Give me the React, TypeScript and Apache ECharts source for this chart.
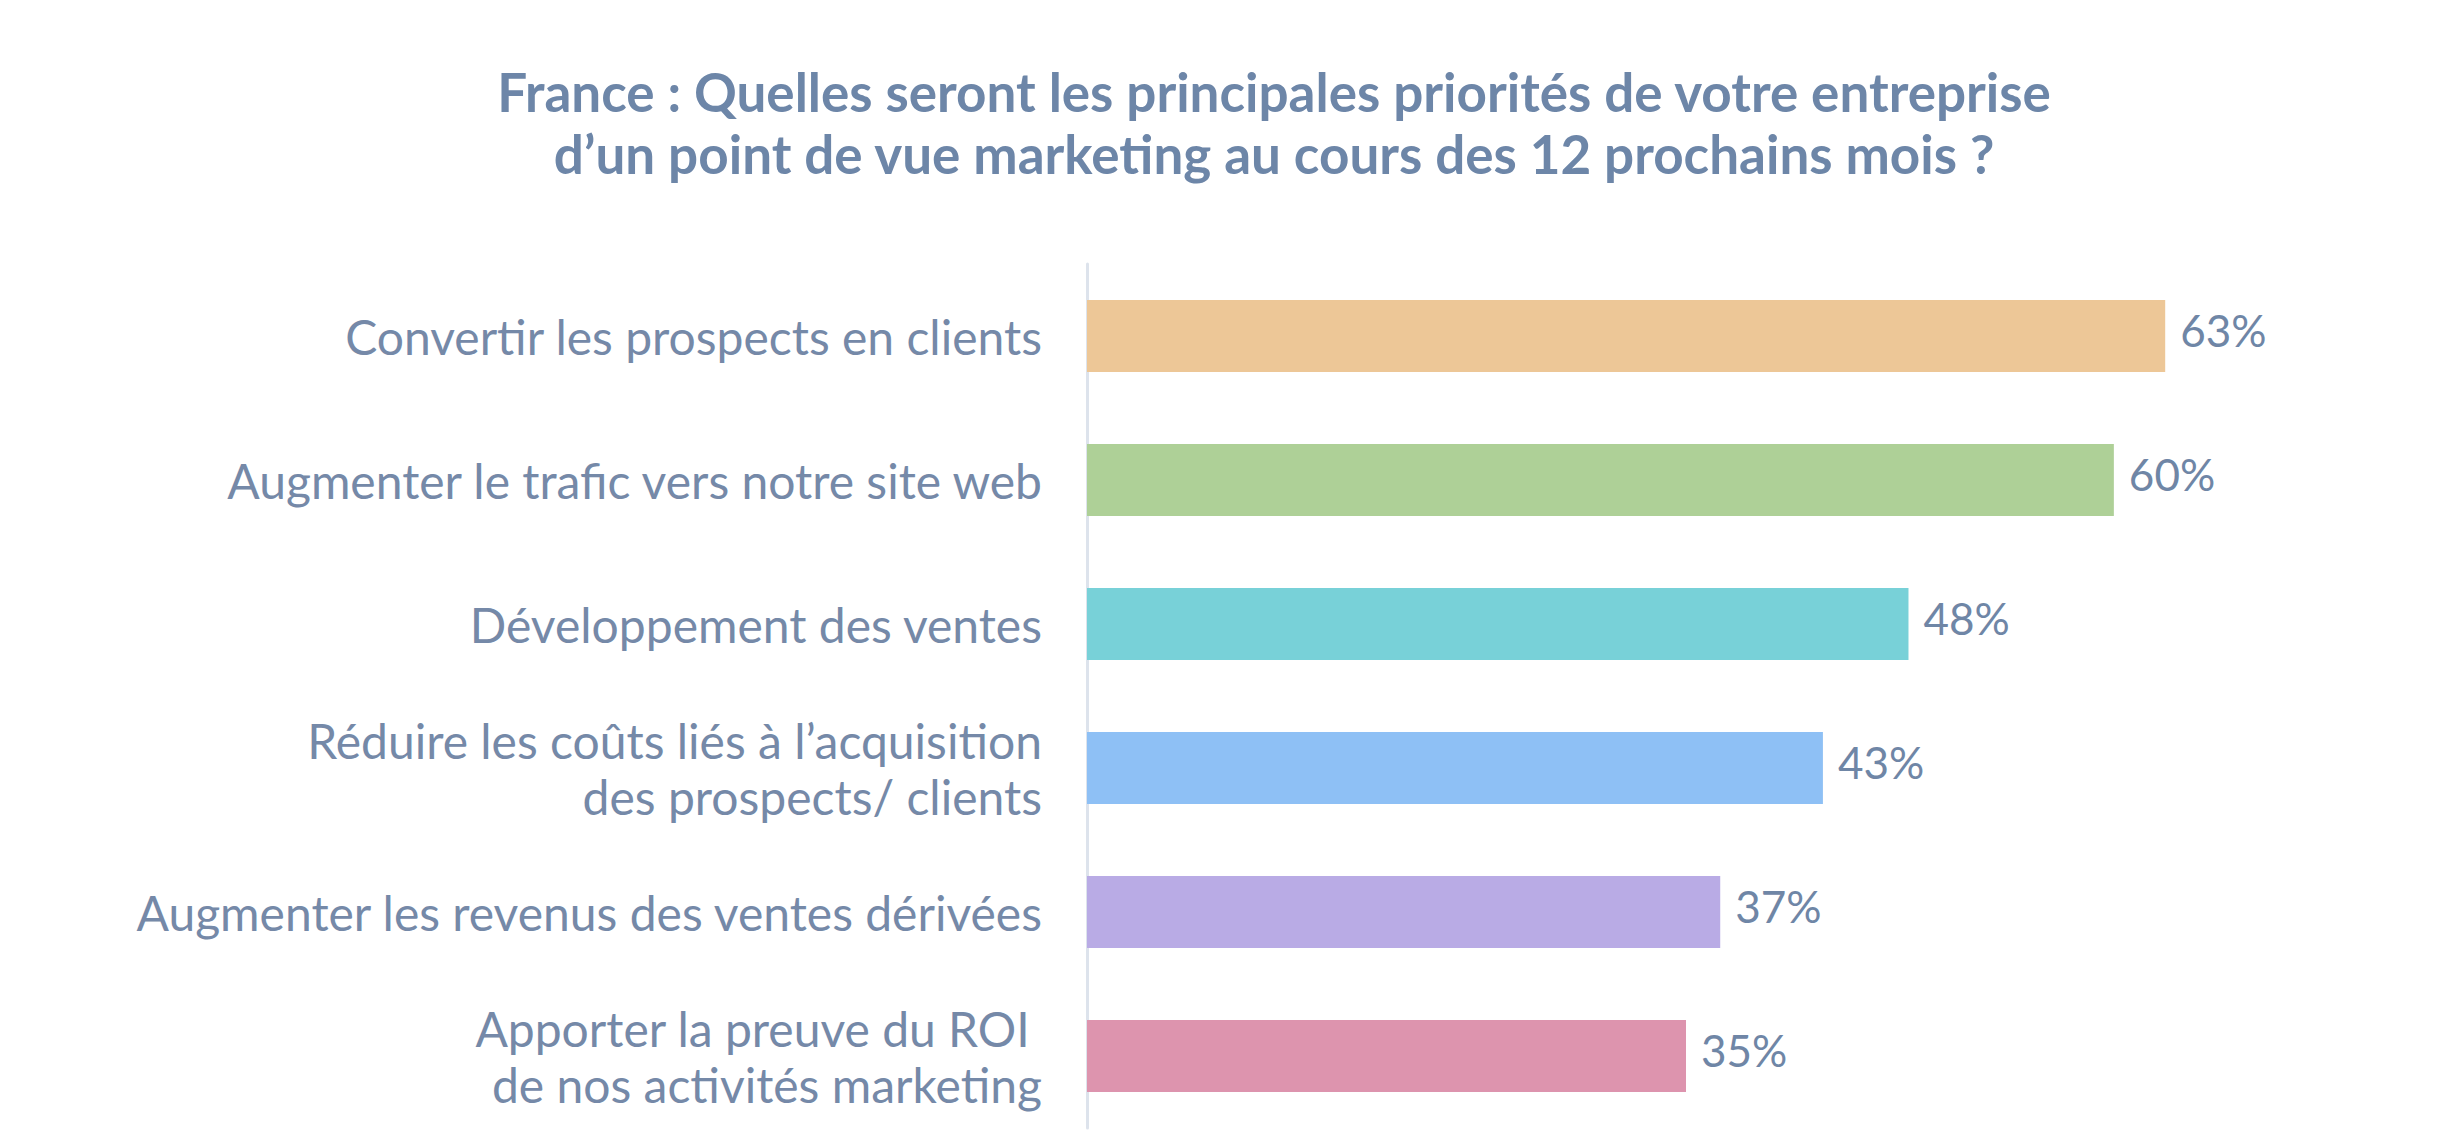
import React, { useEffect, useRef } from "react";
import * as echarts from "echarts";

// Survey answers, top to bottom
const categories: string[] = [
  "Convertir les prospects en clients",
  "Augmenter le trafic vers notre site web",
  "Développement des ventes",
  "Réduire les coûts liés à l’acquisition\ndes prospects/ clients",
  "Augmenter les revenus des ventes dérivées",
  "Apporter la preuve du ROI \nde nos activités marketing",
];

// Share of respondents (%)
const values: number[] = [63, 60, 48, 43, 37, 35];

const barColors: string[] = ["#edc797", "#aed097", "#78d1d8", "#8ec0f5", "#b9abe5", "#dd94ae"];

const titleLines: string[] = [
  "France : Quelles seront les principales priorités de votre entreprise",
  "d’un point de vue marketing au cours des 12 prochains mois ?",
];

const FONT = "Lato, 'Noto Sans', sans-serif";

export default function App() {
  const ref = useRef<HTMLDivElement>(null);

  useEffect(() => {
    if (!ref.current) return;
    const chart = echarts.init(ref.current, undefined, { renderer: "svg" });
    chart.setOption({
      animation: false,
      backgroundColor: "#ffffff",
      title: {
        text: titleLines.join("\n"),
        left: 1269,
        top: 55,
        textAlign: "center",
        textStyle: {
          color: "#6d86a8",
          fontFamily: FONT,
          fontWeight: "bold",
          fontSize: 53,
          lineHeight: 62,
        },
      },
      grid: {
        left: 1087,
        top: 264,
        width: 1198,
        height: 864,
        containLabel: false,
      },
      xAxis: {
        type: "value",
        min: 0,
        max: 70,
        show: false,
      },
      yAxis: {
        type: "category",
        inverse: true,
        data: categories,
        axisLine: { show: true, lineStyle: { color: "#dde3ec", width: 3 } },
        axisTick: { show: false },
        axisLabel: {
          color: "#7589a8",
          fontFamily: FONT,
          fontSize: 48,
          lineHeight: 56,
          margin: 45,
          align: "right",
        },
      },
      series: [
        {
          type: "bar",
          barWidth: 72,
          data: values.map((v, i) => ({ value: v, itemStyle: { color: barColors[i] } })),
          label: {
            show: true,
            position: "right",
            distance: 15,
            offset: [0, -6],
            formatter: "{c}%",
            color: "#6f86a6",
            fontFamily: FONT,
            fontSize: 44,
          },
        },
      ],
    });
    return () => chart.dispose();
  }, []);

  return (
    <div
      ref={ref}
      style={{ position: "fixed", left: 0, top: 0, width: 2446, height: 1136 }}
    />
  );
}
